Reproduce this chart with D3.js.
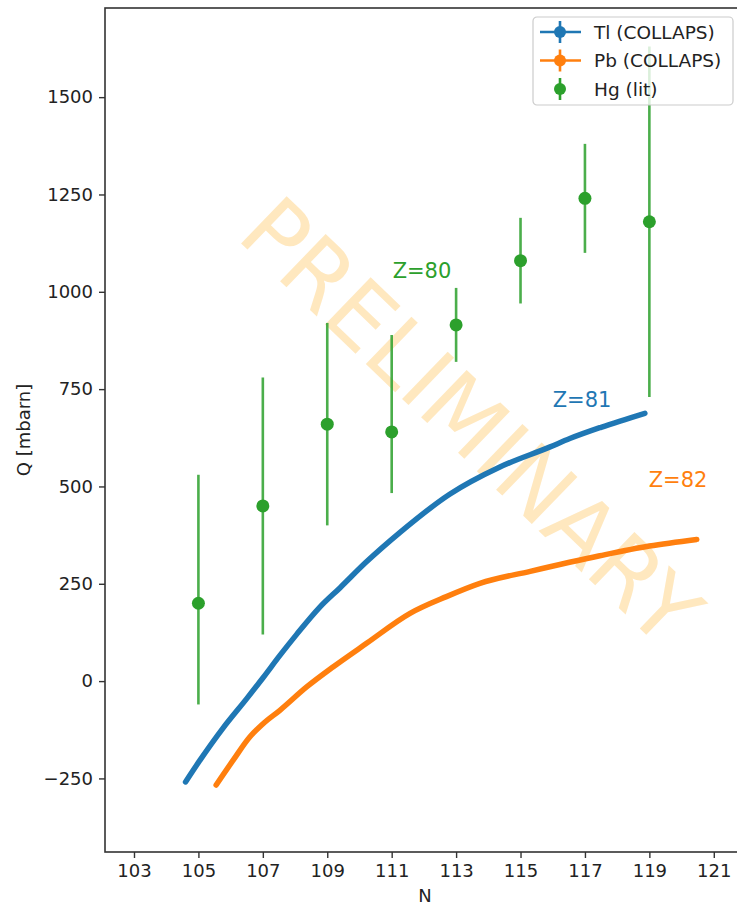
<!DOCTYPE html>
<html>
	<head>
		<script type="text/javascript" src="https://d3js.org/d3.v7.min.js"></script>
		<title>Q vs N</title>
		<style>
			body { margin:0; background:#fff; }
			text { font-family:"DejaVu Sans", sans-serif; }
		</style>
	</head>
	<body>
		<div id="chart"></div>
		<script type="text/javascript">

			// Tl (COLLAPS) curve
			var tlN = [104.6, 105.05, 105.77, 106.5, 107.0, 107.53, 108.05, 108.77, 109.4, 110.2, 111.26, 112.8, 114.36, 115.9, 116.53, 117.5, 118.86];
			var tlQ = [-259, -203, -120, -45, 8, 66, 120, 190, 240, 305, 382, 480, 550, 601, 623, 652, 688];

			// Pb (COLLAPS) curve
			var pbN = [105.55, 106.08, 106.6, 107.0, 107.53, 108.36, 109.19, 110.22, 111.57, 112.7, 113.74, 115.3, 117.46, 119.0, 120.47];
			var pbQ = [-267, -203, -143, -110, -75, -15, 37, 97, 174, 217, 251, 282, 322, 347, 364];

			// Hg (lit) points with error bars
			var hgN  = [105, 107, 109, 111, 113, 115, 117, 119];
			var hgQ  = [200, 450, 660, 640, 915, 1080, 1240, 1180];
			var hgLo = [-60, 120, 400, 483, 820, 970, 1100, 730];
			var hgHi = [530, 780, 920, 889, 1010, 1190, 1380, 1630];

			var xTicks = [103, 105, 107, 109, 111, 113, 115, 117, 119, 121];
			var yTicks = [-250, 0, 250, 500, 750, 1000, 1250, 1500];

			var zLabels = ["Z=80", "Z=81", "Z=82"];
			var zN = [111.03, 116.0, 118.98];
			var zQ = [1035, 704, 498];

			var legendNames = ["Tl (COLLAPS)", "Pb (COLLAPS)", "Hg (lit)"];

			(function(){

			  var W = 737, H = 906;
			  var blue = "#1f77b4", orange = "#ff7f0e", green = "#2ca02c";
			  var zColors = [green, blue, orange];

			  var svg = d3.select("#chart").append("svg")
			      .attr("width", W).attr("height", H);

			  var x = d3.scaleLinear().domain([102.1, 122]).range([105, 746]);
			  var y = d3.scaleLinear().domain([-439, 1729]).range([852, 8]);

			  // watermark
			  svg.append("text")
			     .attr("transform", "translate(466,426) rotate(44)")
			     .attr("text-anchor", "middle").attr("dominant-baseline", "middle")
			     .attr("font-size", 90)
			     .attr("fill", "#ffa500").attr("fill-opacity", 0.25)
			     .text("PRELIMINARY");

			  var line = d3.line()
			      .x(function(d) { return x(d[0]); })
			      .y(function(d) { return y(d[1]); })
			      .curve(d3.curveMonotoneX);

			  svg.append("path")
			     .datum(d3.zip(tlN, tlQ))
			     .attr("d", line).attr("fill", "none")
			     .attr("stroke", blue).attr("stroke-width", 5.5)
			     .attr("stroke-linecap", "round").attr("stroke-linejoin", "round");

			  svg.append("path")
			     .datum(d3.zip(pbN, pbQ))
			     .attr("d", line).attr("fill", "none")
			     .attr("stroke", orange).attr("stroke-width", 5.5)
			     .attr("stroke-linecap", "round").attr("stroke-linejoin", "round");

			  var hg = d3.range(hgN.length);
			  svg.selectAll("line.err")
			     .data(hg).enter().append("line")
			     .attr("class", "err")
			     .attr("x1", function(i) { return x(hgN[i]); })
			     .attr("x2", function(i) { return x(hgN[i]); })
			     .attr("y1", function(i) { return y(hgLo[i]); })
			     .attr("y2", function(i) { return y(hgHi[i]); })
			     .attr("stroke", green).attr("stroke-width", 2.6).attr("stroke-opacity", 0.85);

			  svg.selectAll("circle.hg")
			     .data(hg).enter().append("circle")
			     .attr("class", "hg")
			     .attr("cx", function(i) { return x(hgN[i]); })
			     .attr("cy", function(i) { return y(hgQ[i]); })
			     .attr("r", 6.5).attr("fill", green);

			  svg.selectAll("text.z")
			     .data(zLabels).enter().append("text")
			     .attr("class", "z")
			     .attr("x", function(d, i) { return x(zN[i]); })
			     .attr("y", function(d, i) { return y(zQ[i]); })
			     .attr("font-size", 21).attr("fill", function(d, i) { return zColors[i]; })
			     .text(function(d) { return d; });

			  // axes
			  var xAxis = svg.append("g").attr("transform", "translate(0,852)")
			      .call(d3.axisBottom(x).tickValues(xTicks).tickSize(6).tickPadding(6).tickFormat(d3.format("d")));
			  var yAxis = svg.append("g").attr("transform", "translate(105,0)")
			      .call(d3.axisLeft(y).tickValues(yTicks).tickSize(6).tickPadding(6).tickFormat(function(d) { return d < 0 ? "\u2212" + (-d) : d; }));
			  [xAxis, yAxis].forEach(function(a) {
			    a.select(".domain").remove();
			    a.selectAll("line").attr("stroke", "#333").attr("stroke-width", 1.4);
			    a.selectAll("text").attr("font-size", 18).attr("fill", "#222")
			     .style("font-family", "'DejaVu Sans', sans-serif");
			  });

			  // spines (right one is off the picture)
			  svg.append("rect")
			     .attr("x", 105).attr("y", 8).attr("width", 641).attr("height", 844)
			     .attr("fill", "none").attr("stroke", "#333").attr("stroke-width", 1.6);

			  svg.append("text")
			     .attr("x", 425).attr("y", 902).attr("text-anchor", "middle")
			     .attr("font-size", 18).attr("fill", "#222").text("N");
			  svg.append("text")
			     .attr("transform", "translate(30,430) rotate(-90)").attr("text-anchor", "middle")
			     .attr("font-size", 18).attr("fill", "#222").text("Q [mbarn]");

			  // legend
			  var lg = svg.append("g").attr("transform", "translate(533,17)");
			  lg.append("rect").attr("width", 200).attr("height", 88).attr("rx", 4)
			    .attr("fill", "#fff").attr("fill-opacity", 0.8)
			    .attr("stroke", "#ccc").attr("stroke-width", 1.2);
			  var lcol = [blue, orange, green];
			  legendNames.forEach(function(name, i) {
			    var ly = 15 + i * 28.5;
			    if (i < 2) {
			      lg.append("line").attr("x1", 7).attr("x2", 48).attr("y1", ly).attr("y2", ly)
			        .attr("stroke", lcol[i]).attr("stroke-width", 2.6);
			    }
			    lg.append("line").attr("x1", 27).attr("x2", 27).attr("y1", ly - 11).attr("y2", ly + 11)
			      .attr("stroke", lcol[i]).attr("stroke-width", 2.6);
			    lg.append("circle").attr("cx", 27).attr("cy", ly).attr("r", 6).attr("fill", lcol[i]);
			    lg.append("text").attr("x", 61).attr("y", ly + 6.5)
			      .attr("font-size", 18.5).attr("fill", "#222").text(name);
			  });

			})();
		</script>
	</body>
</html>
